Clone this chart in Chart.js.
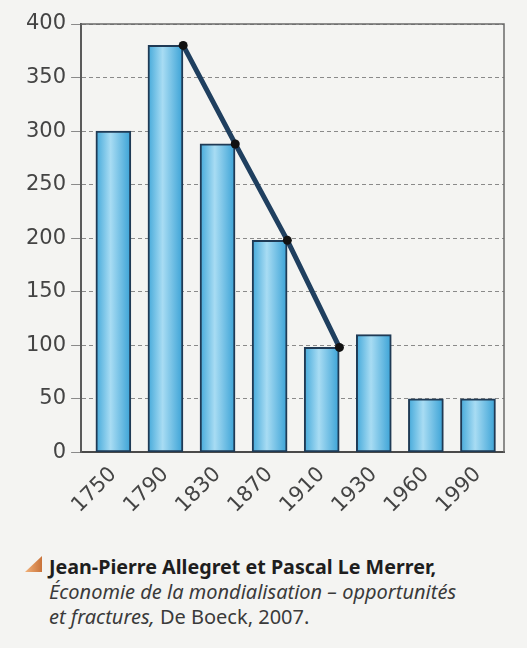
<!DOCTYPE html>
<html>
<head>
<meta charset="utf-8">
<script src="https://cdn.jsdelivr.net/npm/chart.js@4"></script>
<style>
  body { margin: 0; background: #f4f4f2; width: 527px; height: 648px; overflow: hidden; }
  #wrap { position: relative; width: 527px; height: 530px; }
  .mark { position: absolute; left: 25px; top: 556px; width: 17px; height: 16px;
          background: linear-gradient(90deg, #f2b27a, #c9733a);
          clip-path: polygon(100% 0, 100% 100%, 0 100%); }
  .cite { position: absolute; left: 49px; top: 554px; font-family: "Noto Sans", sans-serif;
          color: #3a3a3a; font-size: 20px; line-height: 25px; white-space: nowrap; }
  .cite b { color: #1e1e1e; font-size: 19.7px; }
</style>
</head>
<body>
<div id="wrap"><canvas id="chart" width="527" height="530"></canvas></div>
<div class="mark"></div>
<div class="cite">
  <b>Jean-Pierre Allegret et Pascal Le Merrer,</b><br>
  <i>Économie de la mondialisation – opportunités</i><br>
  <i>et fractures,</i> De Boeck, 2007.
</div>
<script>
// values
const years = ['1750', '1790', '1830', '1870', '1910', '1930', '1960', '1990'];
const barValues = [300, 380, 288, 198, 98, 110, 50, 50];
const lineValues = [null, 380, 288, 198, 98, null, null, null];
const yTicks = [0, 50, 100, 150, 200, 250, 300, 350, 400];

const BAR_PX = 35;      // bar thickness
const BAR_HALF = 0.34;  // half a bar, in category units (line sits on right corners)

function barFill(c) {
    const ch = c.chart;
    if (!ch.chartArea) return '#6cc0e5';
    const x = ch.scales.x.getPixelForValue(c.dataIndex);
    const g = ch.ctx.createLinearGradient(x - BAR_PX / 2, 0, x + BAR_PX / 2, 0);
    g.addColorStop(0, '#44a9da');
    g.addColorStop(0.42, '#a8dcf3');
    g.addColorStop(1, '#3aa2d6');
    return g;
}

const frame = {
    id: 'frame',
    beforeDatasetsDraw(chart) {
        const { ctx, chartArea: a } = chart;
        ctx.save();
        ctx.strokeStyle = '#6a6a6a';
        ctx.lineWidth = 1.5;
        ctx.beginPath();
        ctx.moveTo(a.left, a.top);
        ctx.lineTo(a.right, a.top);
        ctx.lineTo(a.right, a.bottom);
        ctx.stroke();
        ctx.restore();
    }
};

new Chart(document.getElementById('chart'), {
    plugins: [frame],
    data: {
        datasets: [
            {
                type: 'line',
                order: 0,
                data: lineValues.map((v, i) => v == null ? null : { x: i + BAR_HALF, y: v }).filter(Boolean),
                borderColor: '#1f3f5f',
                borderWidth: 5,
                pointRadius: 4.5,
                pointBackgroundColor: '#111',
                pointBorderWidth: 0,
                tension: 0,
            },
            {
                type: 'bar',
                order: 1,
                data: barValues.map((v, i) => ({ x: i, y: v })),
                backgroundColor: barFill,
                borderColor: '#1f3a55',
                borderWidth: 2,
                borderSkipped: false,
                barThickness: BAR_PX,
            },
        ]
    },
    options: {
        responsive: false,
        animation: false,
        layout: { padding: { left: 21, right: 23, top: 24, bottom: 10 } },
        plugins: { legend: { display: false }, tooltip: { enabled: false } },
        scales: {
            x: {
                type: 'linear',
                offset: false,
                min: -0.62,
                max: 7.5,
                afterBuildTicks: s => { s.ticks = years.map((_, i) => ({ value: i })); },
                grid: { display: false },
                border: { color: '#4a4a4a', width: 2 },
                ticks: {
                    autoSkip: false,
                    minRotation: 45,
                    maxRotation: 45,
                    padding: 2,
                    color: '#444',
                    font: { family: 'DejaVu Sans', size: 21 },
                    callback: v => years[v],
                },
            },
            y: {
                min: 0,
                max: 400,
                afterBuildTicks: s => { s.ticks = yTicks.map(v => ({ value: v })); },
                grid: { color: '#8a8a8a', lineWidth: 1, tickLength: 10 },
                border: { color: '#5a5a5a', width: 2, dash: [4, 3] },
                ticks: {
                    padding: 5,
                    color: '#444',
                    font: { family: 'DejaVu Sans', size: 21 },
                },
            },
        },
    },
});
</script>
</body>
</html>
